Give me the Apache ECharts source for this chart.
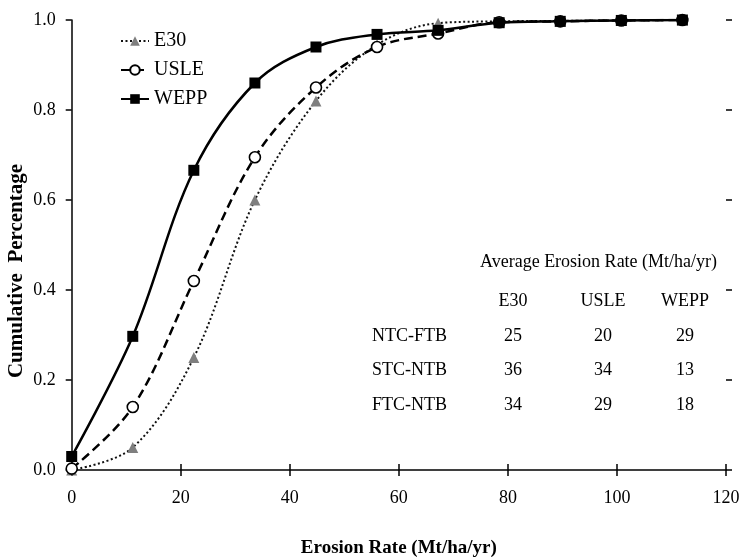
<!DOCTYPE html>
<html>
<head>
<meta charset="utf-8">
<script src="https://cdn.jsdelivr.net/npm/echarts@6/dist/echarts.min.js"></script>
<style>
html,body{margin:0;padding:0;background:#fff;}
#chart{width:741px;height:557px;}
</style>
</head>
<body>
<div id="chart"></div>
<script>
// ---- data ----
var xValues = [0, 11.2, 22.4, 33.6, 44.8, 56, 67.2, 78.4, 89.6, 100.8, 112];
var e30 = [0.0, 0.05, 0.25, 0.6, 0.82, 0.945, 0.993, 0.997, 0.998, 0.999, 1.0];
var usle = [0.003, 0.14, 0.42, 0.695, 0.85, 0.94, 0.97, 0.995, 0.997, 0.999, 1.0];
var wepp = [0.03, 0.297, 0.666, 0.86, 0.94, 0.968, 0.977, 0.994, 0.997, 0.999, 1.0];
var xTicks = [0, 20, 40, 60, 80, 100, 120];
var yTicks = [0.0, 0.2, 0.4, 0.6, 0.8, 1.0];
var tableTitle = 'Average Erosion Rate (Mt/ha/yr)';
var tableCols = ['E30', 'USLE', 'WEPP'];
var tableRows = ['NTC-FTB', 'STC-NTB', 'FTC-NTB'];
var tableE30 = [25, 36, 34];
var tableUSLE = [20, 34, 29];
var tableWEPP = [29, 13, 18];

function pairs(ys) { return xValues.map(function (x, i) { return [x, ys[i]]; }); }

var FONT = '"Liberation Serif", "DejaVu Serif", serif';
var chart = echarts.init(document.getElementById('chart'));

var GL = 71.7, GR = 15, GT = 20, GB = 87;
var gridW = 741 - GL - GR, gridH = 557 - GT - GB;

var colX = [513, 603, 685];
var rowY = [336, 370, 405];
var graphics = [];
graphics.push({type: 'text', x: 480, y: 262, style: {text: tableTitle, font: '18px ' + FONT, fill: '#000', textAlign: 'left', textVerticalAlign: 'middle'}});
tableCols.forEach(function (c, i) {
  graphics.push({type: 'text', x: colX[i], y: 301, style: {text: c, font: '18px ' + FONT, fill: '#000', textAlign: 'center', textVerticalAlign: 'middle'}});
});
var colsData = [tableE30, tableUSLE, tableWEPP];
tableRows.forEach(function (r, j) {
  graphics.push({type: 'text', x: 447, y: rowY[j], style: {text: r, font: '18px ' + FONT, fill: '#000', textAlign: 'right', textVerticalAlign: 'middle'}});
  colsData.forEach(function (col, i) {
    graphics.push({type: 'text', x: colX[i], y: rowY[j], style: {text: String(col[j]), font: '18px ' + FONT, fill: '#000', textAlign: 'center', textVerticalAlign: 'middle'}});
  });
});
graphics.push({type: 'text', x: 17, y: 271, rotation: Math.PI / 2, style: {text: 'Cumulative  Percentage', font: 'bold 21px ' + FONT, fill: '#000', textAlign: 'center', textVerticalAlign: 'middle'}});

var baseX = {type: 'value', min: xTicks[0], max: xTicks[xTicks.length - 1], interval: 20, splitLine: {show: false}};
var baseY = {type: 'value', min: yTicks[0], max: yTicks[yTicks.length - 1], interval: 0.2, splitLine: {show: false}};

chart.setOption({
  animation: false,
  backgroundColor: '#fff',
  grid: {left: GL, right: GR, top: GT, bottom: GB, containLabel: false, outerBoundsMode: 'none'},
  legend: {
    orient: 'vertical', left: 120, top: 31, padding: 0, itemGap: 9, itemWidth: 28, itemHeight: 12,
    textStyle: {fontFamily: FONT, fontSize: 20, color: '#000'},
    data: ['E30', 'USLE', 'WEPP']
  },
  xAxis: [
    Object.assign({}, baseX, {
      position: 'bottom',
      axisLine: {show: true, lineStyle: {color: '#000', width: 1.5}},
      axisTick: {show: true, inside: false, length: 6, lineStyle: {color: '#000', width: 1.5}},
      axisLabel: {fontFamily: FONT, fontSize: 18, color: '#000', margin: 19},
      name: 'Erosion Rate (Mt/ha/yr)', nameLocation: 'middle', nameGap: 69,
      nameTextStyle: {fontFamily: FONT, fontSize: 19, fontWeight: 'bold', color: '#000'}
    }),
    Object.assign({}, baseX, {
      position: 'top', offset: -gridH,
      axisLine: {show: false},
      axisTick: {show: true, inside: false, length: 6, lineStyle: {color: '#000', width: 1.5}},
      axisLabel: {show: false}
    })
  ],
  yAxis: [
    Object.assign({}, baseY, {
      position: 'left',
      axisLine: {show: true, lineStyle: {color: '#000', width: 1.5}},
      axisTick: {show: true, inside: false, length: 6, lineStyle: {color: '#000', width: 1.5}},
      axisLabel: {fontFamily: FONT, fontSize: 18, color: '#000', margin: 16, formatter: function (v) { return v.toFixed(1); }}
    }),
    Object.assign({}, baseY, {
      position: 'right', offset: -gridW,
      axisLine: {show: false},
      axisTick: {show: true, inside: false, length: 6, lineStyle: {color: '#000', width: 1.5}},
      axisLabel: {show: false}
    })
  ],
  graphic: graphics,
  series: [
    {
      name: 'E30', type: 'line', data: pairs(e30), smooth: 0.35, z: 2,
      symbol: 'triangle', symbolSize: 11,
      itemStyle: {color: '#7f7f7f'},
      lineStyle: {color: '#111', width: 2, type: [2, 2.5]}
    },
    {
      name: 'USLE', type: 'line', data: pairs(usle), smooth: 0.35, z: 3,
      symbol: 'circle', symbolSize: 11,
      itemStyle: {color: '#fff', borderColor: '#000', borderWidth: 1.6},
      lineStyle: {color: '#000', width: 2.5, type: [9, 5]}
    },
    {
      name: 'WEPP', type: 'line', data: pairs(wepp), smooth: 0.35, z: 4,
      symbol: 'rect', symbolSize: 11,
      itemStyle: {color: '#000'},
      lineStyle: {color: '#000', width: 2.5}
    }
  ]
});
</script>
</body>
</html>
